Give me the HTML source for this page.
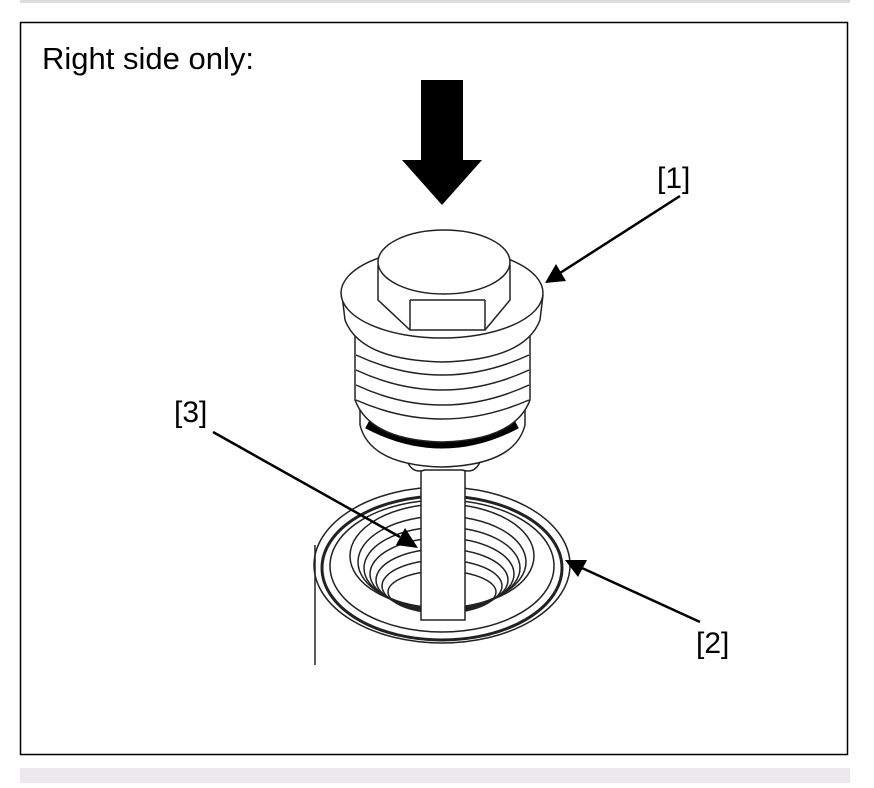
<!DOCTYPE html>
<html><head><style>
html,body{margin:0;padding:0;background:#fff;}
body{width:874px;height:783px;position:relative;overflow:hidden;font-family:"Liberation Sans",sans-serif;}
</style></head><body>
<svg width="874" height="783" viewBox="0 0 874 783" xmlns="http://www.w3.org/2000/svg">
<rect x="20" y="0" width="830" height="3" fill="#dcdcdc"/>
<rect x="20" y="768" width="830" height="15" fill="#ebe9ec"/>
<rect x="20.5" y="22.5" width="827" height="732" fill="#fff" stroke="#000" stroke-width="1.5"/>
<text x="42" y="69" font-size="31" font-family="Liberation Sans, sans-serif">Right side only:</text>
<rect x="421" y="80" width="42" height="82" fill="#000"/>
<polygon points="402,160 482,160 442,205" fill="#000"/>
<g fill="none" stroke="#222" stroke-width="1.5">
<line x1="315" y1="545" x2="315" y2="665"/>
<ellipse cx="442" cy="565" rx="128" ry="78"/>
<ellipse cx="442" cy="568" rx="120" ry="72" stroke-width="3"/>
<ellipse cx="442" cy="566" rx="112" ry="66"/>
<ellipse cx="442" cy="556" rx="92" ry="52"/>
<ellipse cx="442" cy="562" rx="84" ry="46"/>
<ellipse cx="442" cy="568" rx="78" ry="41"/>
<ellipse cx="442" cy="574" rx="72" ry="36"/>
<ellipse cx="442" cy="580" rx="66" ry="31"/>
<ellipse cx="442" cy="586" rx="60" ry="26"/>
<ellipse cx="442" cy="592" rx="54" ry="21"/>
<rect x="421" y="455" width="44" height="165" fill="#fff"/>
<path d="M405 455 Q410 475 425 470 L462 470 Q478 475 482 455" fill="#fff"/>
<path d="M360 400 L360 425 Q370 465 442 467 Q515 465 525 425 L525 400" fill="#fff"/>
<path d="M368 423 Q442 462 516 423" stroke="#000" stroke-width="12"/>
<path d="M355 330 L355 400 Q370 440 442 442 Q515 440 530 400 L530 330" fill="#fff"/>
<path d="M356 355 Q442 395 529 355"/><path d="M356 370 Q442 410 529 370"/>
<path d="M356 385 Q442 425 529 385"/><path d="M356 400 Q442 438 529 400"/>
<path d="M342 295 L345 320 Q360 360 442 362 Q525 360 540 320 L543 295" fill="#fff"/>
<ellipse cx="442" cy="293" rx="101" ry="45" fill="#fff"/>
<path d="M378 265 L378 300 L410 330 L485 330 L510 300 L510 265" fill="#fff"/>
<ellipse cx="444" cy="262" rx="66" ry="32" fill="#fff"/>
<line x1="410" y1="300" x2="485" y2="300"/><line x1="410" y1="300" x2="410" y2="330"/><line x1="485" y1="300" x2="485" y2="330"/>
</g>
<g stroke="#000" stroke-width="2.5">
<line x1="680" y1="196" x2="560" y2="273"/>
<line x1="213" y1="432" x2="400" y2="537"/>
<line x1="700" y1="622" x2="582" y2="568"/>
</g>
<polygon points="545,283 556,264 566,281" fill="#000"/>
<polygon points="418,548 396,545 405,528" fill="#000"/>
<polygon points="565,560 587,560 578,577" fill="#000"/>
<g font-size="30" font-family="Liberation Sans, sans-serif">
<text x="657" y="188">[1]</text>
<text x="174" y="422">[3]</text>
<text x="696" y="653">[2]</text>
</g>
</svg>
</body></html>
